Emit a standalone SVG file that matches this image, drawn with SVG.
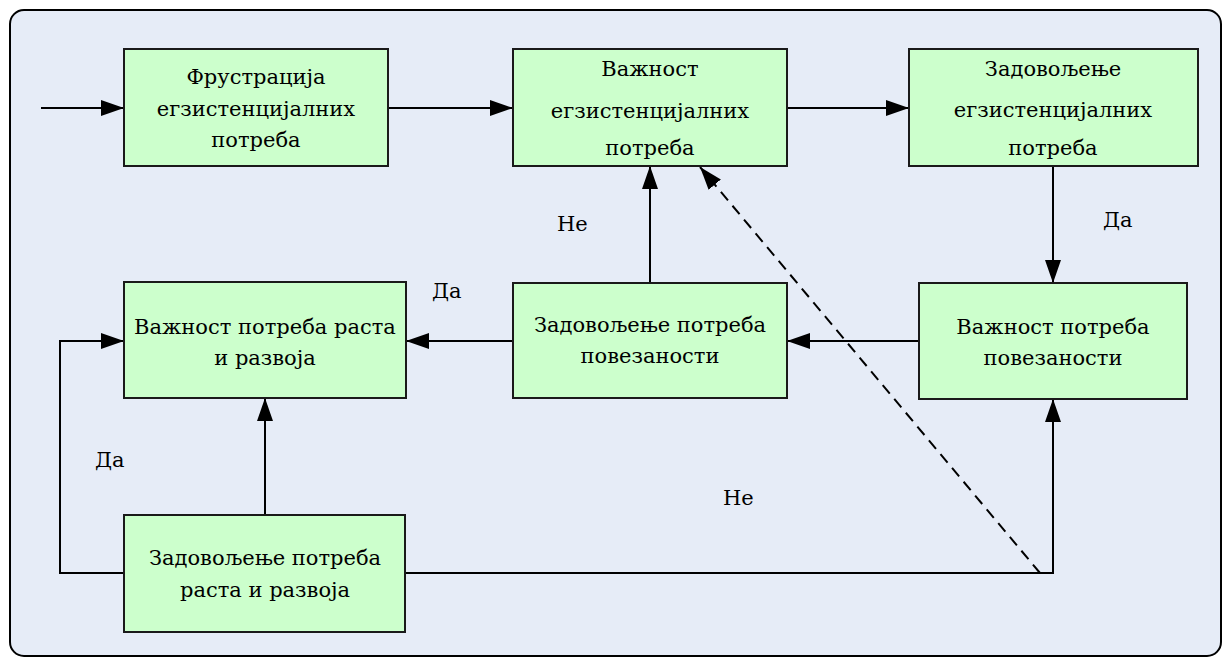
<svg xmlns="http://www.w3.org/2000/svg" width="1231" height="666" viewBox="0 0 1231 666">
<style>
.node rect{fill:#CCFFCC;stroke:#1a1a1a;stroke-width:2}
.t{font-family:'DejaVu Serif',serif;font-size:21px;fill:#000}
.node text{text-anchor:middle}
.conn path{fill:none;stroke:#000;stroke-width:2}
.dash{stroke-dasharray:11 7}
</style>
<defs>
<marker id="ah" markerUnits="userSpaceOnUse" markerWidth="24" markerHeight="18" viewBox="0 0 24 18" refX="23" refY="9" orient="auto">
<path d="M0,1 L23,9 L0,17 z" fill="#000" stroke="none"/>
</marker>
</defs>
<rect x="10" y="10" width="1211" height="646" rx="14" ry="14" fill="#E6ECF7" stroke="#000" stroke-width="2"/>
<g class="conn">
<path d="M41,108 H124" marker-end="url(#ah)"/>
<path d="M388,108 H513" marker-end="url(#ah)"/>
<path d="M787,108 H909" marker-end="url(#ah)"/>
<path d="M1053,166 V283" marker-end="url(#ah)"/>
<path d="M919,341 H787" marker-end="url(#ah)"/>
<path d="M513,341 H406" marker-end="url(#ah)"/>
<path d="M650,283 V166" marker-end="url(#ah)"/>
<path d="M265,515 V398" marker-end="url(#ah)"/>
<path d="M124,573 H60 V341 H124" marker-end="url(#ah)"/>
<path d="M405,573 H1053 V399" marker-end="url(#ah)"/>
<path class="dash" d="M1040,573 L700,167" marker-end="url(#ah)"/>
</g>
<g class="t">
<g id="n1" class="node"><rect x="124" y="49" width="264" height="117"/>
<text x="256" y="84">Фрустрација</text><text x="256" y="116">егзистенцијалних</text><text x="256" y="147">потреба</text></g>
<g id="n2" class="node"><rect x="513" y="49" width="274" height="117"/>
<text x="650" y="76">Важност</text><text x="650" y="118">егзистенцијалних</text><text x="650" y="155">потреба</text></g>
<g id="n3" class="node"><rect x="909" y="49" width="289" height="117"/>
<text x="1053" y="76">Задовољење</text><text x="1053" y="117">егзистенцијалних</text><text x="1053" y="155">потреба</text></g>
<g id="n4" class="node"><rect x="124" y="282" width="282" height="116"/>
<text x="265" y="334">Важност потреба раста</text><text x="265" y="365">и развоја</text></g>
<g id="n5" class="node"><rect x="513" y="283" width="274" height="115"/>
<text x="650" y="332">Задовољење потреба</text><text x="650" y="363">повезаности</text></g>
<g id="n6" class="node"><rect x="919" y="283" width="268" height="116"/>
<text x="1053" y="334">Важност потреба</text><text x="1053" y="365">повезаности</text></g>
<g id="n7" class="node"><rect x="124" y="515" width="281" height="117"/>
<text x="265" y="565">Задовољење потреба</text><text x="265" y="597">раста и развоја</text></g>
<g id="labels">
<text x="1103" y="227">Да</text>
<text x="432" y="298">Да</text>
<text x="95" y="467">Да</text>
<text x="557" y="231">Не</text>
<text x="723" y="505">Не</text>
</g>
</g>
</svg>
